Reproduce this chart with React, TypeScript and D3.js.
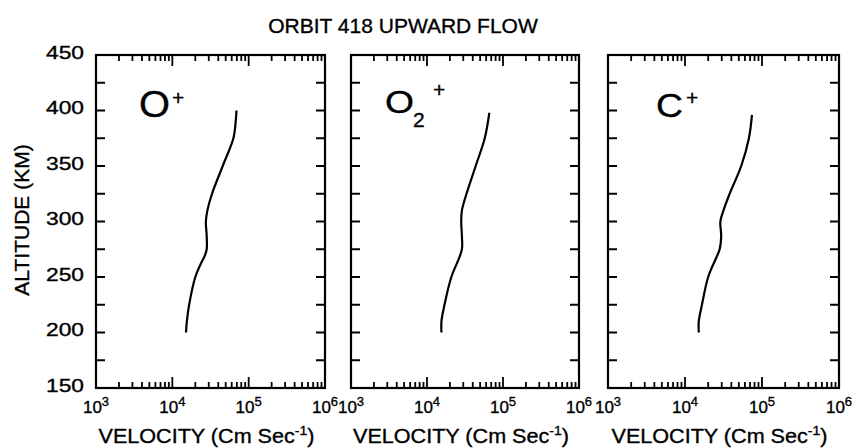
import React from "react";
import * as d3 from "d3";

const TITLE = "ORBIT 418 UPWARD FLOW";
const Y_TICKS = [150, 200, 250, 300, 350, 400, 450];
const X_DECADES = [3, 4, 5, 6];

// O+ profile
const altO = [200, 210, 225, 250, 260, 270, 275, 287, 300, 310, 325, 350, 375, 390, 400];
const velO = [15100, 15500, 16600, 20000, 22900, 26900, 28200, 28200, 27500, 28800, 33100, 45700, 63100, 67600, 69200];
// O2+ profile
const altO2 = [200, 210, 225, 250, 265, 275, 287, 300, 310, 325, 350, 375, 398];
const velO2 = [15500, 15500, 17000, 20900, 25700, 28800, 28800, 28200, 28800, 33100, 43700, 57500, 66100];
// C+ profile
const altC = [200, 210, 225, 250, 268, 275, 287, 300, 310, 325, 350, 375, 396];
const velC = [15100, 15100, 16600, 20000, 25700, 28200, 29500, 28800, 31600, 38000, 53700, 67600, 74100];

const FONT = "'Liberation Sans', Arial, Helvetica, sans-serif";

type Panel = {
  left: number;
  right: number;
  alt: number[];
  vel: number[];
  label: React.ReactNode;
  showY: boolean;
};

const TOP = 55;
const BOTTOM = 388;

function PanelView({ p }: { p: Panel }) {
  const x = d3.scaleLog().domain([1e3, 1e6]).range([p.left, p.right]);
  const y = d3.scaleLinear().domain([150, 450]).range([BOTTOM, TOP]);
  const pts: [number, number][] = p.alt.map((a, i) => [x(p.vel[i]), y(a)]);
  const line = d3.line().curve(d3.curveCatmullRom.alpha(0.5))(pts) || "";

  const yMinor = d3.range(150, 451, 25);
  const xTicks: { v: number; major: boolean }[] = [];
  for (let d = 3; d < 6; d++) {
    for (let k = 1; k <= 9; k++) {
      const v = k * Math.pow(10, d);
      if (v === 1e3) continue;
      xTicks.push({ v, major: k === 1 });
    }
  }
  const cx = (p.left + p.right) / 2;
  return (
    <g>
      {yMinor.map((t) => (
        <g key={"y" + t}>
          <line x1={p.left} x2={p.left + 9} y1={y(t)} y2={y(t)} stroke="#000" strokeWidth={2} />
          <line x1={p.right} x2={p.right - 9} y1={y(t)} y2={y(t)} stroke="#000" strokeWidth={2} />
        </g>
      ))}
      {xTicks.map((t) => {
        const len = t.major ? 11 : 6;
        return (
          <g key={"x" + t.v}>
            <line x1={x(t.v)} x2={x(t.v)} y1={BOTTOM} y2={BOTTOM - len} stroke="#000" strokeWidth={1.8} />
            <line x1={x(t.v)} x2={x(t.v)} y1={TOP} y2={TOP + len} stroke="#000" strokeWidth={1.8} />
          </g>
        );
      })}
      <rect x={p.left} y={TOP} width={p.right - p.left} height={BOTTOM - TOP} fill="none" stroke="#000" strokeWidth={2.2} />
      <path d={line} fill="none" stroke="#000" strokeWidth={2.2} />
      {p.showY &&
        Y_TICKS.map((t) => (
          <text key={"yl" + t} className="t" x={84} y={y(t) + 3.5} textAnchor="end" fontSize={18} textLength={38} lengthAdjust="spacingAndGlyphs">
            {t}
          </text>
        ))}
      {X_DECADES.map((d) => (
        <text key={"xl" + d} className="t" x={x(Math.pow(10, d))} y={413} textAnchor="middle" fontSize={17}>
          10
          <tspan dy={-7} fontSize={13}>
            {d}
          </tspan>
        </text>
      ))}
      <g transform={`translate(${cx - 4},443) scale(1.08,1)`}>
        <text className="t" x={0} y={0} textAnchor="middle" fontSize={20}>
          VELOCITY (Cm Sec
          <tspan dy={-8} fontSize={13}>
            -1
          </tspan>
          <tspan dy={8}>)</tspan>
        </text>
      </g>
      {p.label}
    </g>
  );
}

export default function App() {
  const panels: Panel[] = [
    {
      left: 96,
      right: 325,
      alt: altO,
      vel: velO,
      showY: true,
      label: (
        <g className="t">
          <text x={139} y={117} fontSize={36} textLength={31} lengthAdjust="spacingAndGlyphs">O</text>
          <text x={172} y={105} fontSize={21}>+</text>
        </g>
      ),
    },
    {
      left: 351,
      right: 579,
      alt: altO2,
      vel: velO2,
      showY: false,
      label: (
        <g className="t">
          <text x={385} y={113} fontSize={31} textLength={29} lengthAdjust="spacingAndGlyphs">O</text>
          <text x={413} y={127} fontSize={21}>2</text>
          <text x={433} y={97} fontSize={21}>+</text>
        </g>
      ),
    },
    {
      left: 608,
      right: 839,
      alt: altC,
      vel: velC,
      showY: false,
      label: (
        <g className="t">
          <text x={656} y={117} fontSize={33} textLength={27} lengthAdjust="spacingAndGlyphs">C</text>
          <text x={686} y={105} fontSize={21}>+</text>
        </g>
      ),
    },
  ];
  return (
    <svg
      width={855}
      height={448}
      style={{ position: "absolute", left: 0, top: 0, background: "#fff" }}
      fontFamily={FONT}
      fill="#000"
    >
      <style>{`.t, .t text { stroke: #000; stroke-width: 0.35px; }`}</style>
      <rect x={0} y={0} width={855} height={448} fill="#fff" />
      <text className="t" x={403} y={33} textAnchor="middle" fontSize={21}>
        {TITLE}
      </text>
      <text className="t" transform="translate(29,220) rotate(-90)" textAnchor="middle" fontSize={21}>
        ALTITUDE (KM)
      </text>
      {panels.map((p, i) => (
        <PanelView key={i} p={p} />
      ))}
    </svg>
  );
}
